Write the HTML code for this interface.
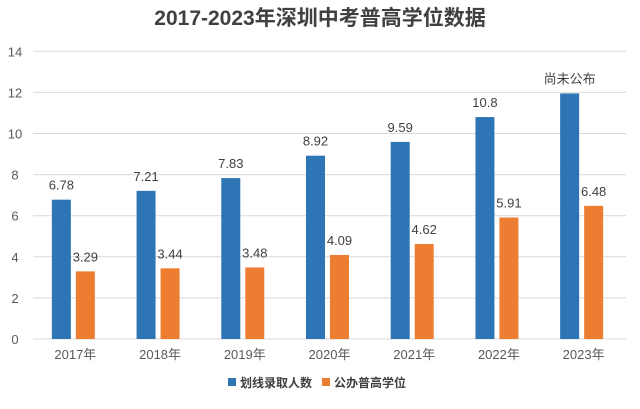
<!DOCTYPE html>
<html><head><meta charset="utf-8"><style>
body{margin:0;background:#fff;font-family:"Liberation Sans","Noto Sans CJK SC",sans-serif;}
svg text{font-family:"Liberation Sans","Noto Sans CJK SC",sans-serif;}
</style></head><body>
<svg id="chart" width="640" height="404" xmlns="http://www.w3.org/2000/svg">
<text x="320" y="25" text-anchor="middle" font-size="21" font-weight="bold" fill="#404040">2017-2023年深圳中考普高学位数据</text>
<g id="grid"></g><g id="bars"></g>
<g>
<rect x="228" y="378" width="8" height="8" fill="#2e75b6"/>
<text x="240" y="387" font-size="12" font-weight="bold" fill="#404040">划线录取人数</text>
<rect x="322" y="378" width="8" height="8" fill="#ed7d31"/>
<text x="334" y="387" font-size="12" font-weight="bold" fill="#404040">公办普高学位</text>
</g>
</svg>
<script>
const categories=["2017年","2018年","2019年","2020年","2021年","2022年","2023年"];
const admitted=[6.78,7.21,7.83,8.92,9.59,10.8,11.95];
const admittedLabels=["6.78","7.21","7.83","8.92","9.59","10.8","尚未公布"];
const seats=[3.29,3.44,3.48,4.09,4.62,5.91,6.48];
const seatLabels=["3.29","3.44","3.48","4.09","4.62","5.91","6.48"];
const yTicks=[0,2,4,6,8,10,14,12];
const NS="http://www.w3.org/2000/svg";
const x0=33,x1=626,y0=339,ppu=20.55;
const bw=(x1-x0)/categories.length;
const y=v=>y0-v*ppu;
function mk(t,a,p){const e=document.createElementNS(NS,t);for(const k in a)e.setAttribute(k,a[k]);p.appendChild(e);return e;}
const grid=document.getElementById('grid'),bars=document.getElementById('bars');
yTicks.forEach(t=>{
 const l=mk('line',{x1:x0,x2:x1,y1:y(t),y2:y(t),stroke:'#d9d9d9','stroke-width':1},grid);
 
 
 const tx=mk('text',{x:15,y:y(t)+5,'text-anchor':'middle','font-size':13,fill:'#595959'},grid);
 tx.textContent=t;
 
 
});
categories.forEach((c,i)=>{
 const cx=x0+bw*(i+0.5);
 const b=mk('rect',{x:cx-23.5,y:y(admitted[i]),width:19,height:admitted[i]*ppu,fill:'#2e75b6'},bars);
 
 
 const o=mk('rect',{x:cx+0.5,y:y(seats[i]),width:19,height:seats[i]*ppu,fill:'#ed7d31'},bars);
 
 
 const t1=mk('text',{x:cx-14,y:y(admitted[i])-10,'text-anchor':'middle','font-size':13,fill:'#404040'},bars);
 t1.textContent=admittedLabels[i];
 
 
 const t2=mk('text',{x:cx+10,y:y(seats[i])-10,'text-anchor':'middle','font-size':13,fill:'#404040'},bars);
 t2.textContent=seatLabels[i];
 
 
 const xl=mk('text',{x:cx,y:359,'text-anchor':'middle','font-size':13,fill:'#595959'},bars);
 xl.textContent=c;
 
 
});
</script>
</body></html>
